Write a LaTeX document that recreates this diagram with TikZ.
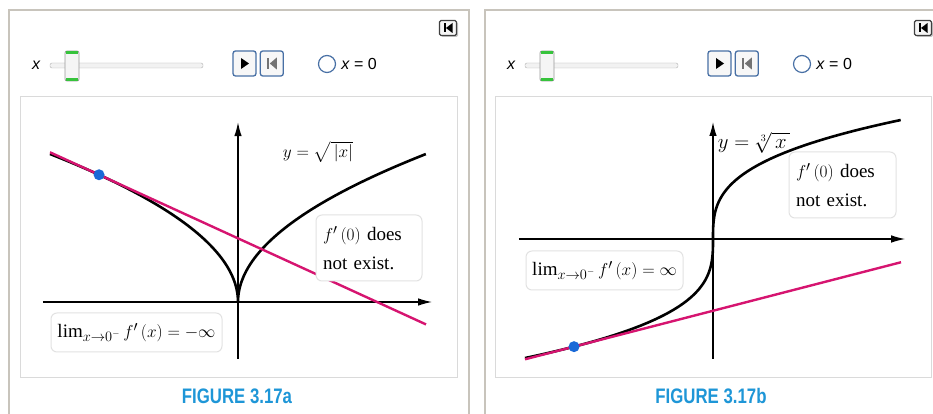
\documentclass[tikz,border=0pt]{standalone}
\usepackage{amsmath}
\usepackage{fontspec}
\setmainfont{Liberation Serif}
\setsansfont{Liberation Sans}
\usetikzlibrary{calc,arrows.meta,positioning}
\definecolor{panelGray}{RGB}{200,196,188}
\definecolor{plotGray}{RGB}{218,218,218}
\definecolor{noteGray}{RGB}{226,226,226}
\definecolor{tanPink}{RGB}{214,20,112}
\definecolor{dotBlue}{RGB}{25,105,215}
\definecolor{capBlue}{RGB}{30,150,215}
\definecolor{btnBlue}{RGB}{72,112,165}
\definecolor{thumbGreen}{RGB}{55,195,60}
\tikzset{
  panel/.style={panelGray,line width=2pt},
  plotbox/.style={draw=plotGray,line width=1pt},
  axis/.style={line width=1.3pt,-{Latex[length=14pt,width=7.5pt]}},
  fcurve/.style={line width=2.6pt},
  tangent/.style={tanPink,line width=2.4pt},
  note/.style={draw=noteGray,fill=white,rounded corners=6pt,line width=1pt,font=\fontsize{19}{29}\selectfont},
  figcap/.style={text=capBlue,font=\sffamily\bfseries\fontsize{21}{21}\selectfont},
  btn/.style={draw=btnBlue,fill=black!3,rounded corners=2.5pt,line width=1.3pt,minimum width=23pt,minimum height=25pt,inner sep=0pt},
}
\newcommand{\ControlBar}[2]{%
\begin{scope}[xshift=#1]
  \node[font=\sffamily\itshape\fontsize{16}{16}\selectfont] (xname#2) at (36,349) {x};
  \draw[draw=black!30,fill=black!5,rounded corners=2pt] (50,346) rectangle (203,351);
  \node[draw=black!40,fill=black!4,rounded corners=2pt,minimum width=14pt,minimum height=30pt,inner sep=0pt,line width=0.8pt] (thumb#2) at (72,348) {};
  \draw[thumbGreen,line width=3.5pt] ([xshift=1.2pt,yshift=-2pt]thumb#2.north west) -- ([xshift=-1.2pt,yshift=-2pt]thumb#2.north east);
  \draw[thumbGreen,line width=3.5pt] ([xshift=1.2pt,yshift=2pt]thumb#2.south west) -- ([xshift=-1.2pt,yshift=2pt]thumb#2.south east);
  \node[btn] (play#2) at (244.5,350.5) {};
  \node[btn,right=3pt of play#2] (reset#2) {};
  \fill ($(play#2.center)+(-3.5,5.5)$) -- ++(0,-11) -- ++(8,5.5) -- cycle;
  \fill[black!55] ($(reset#2.center)+(-5,5.5)$) rectangle ++(2,-11);
  \fill[black!55] ($(reset#2.center)+(5,6)$) -- ++(0,-12) -- ++(-7,6) -- cycle;
  \node[circle,draw=btnBlue,fill=white,line width=1.2pt,minimum size=17pt,inner sep=0pt] (radio#2) at (327,350) {};
  \node[right=5pt of radio#2,font=\sffamily\fontsize{16}{16}\selectfont,inner sep=0pt] (zero#2) {\textit{x} = 0};
  \fill[black!22,rounded corners=1.5pt] (441,377) rectangle (458,392);
  \node[draw=black!75,fill=black!4,rounded corners=1.5pt,line width=1.2pt,minimum width=17pt,minimum height=15pt,inner sep=0pt] (hide#2) at (448,386) {};
  \fill ($(hide#2.center)+(-4.5,4.5)$) rectangle ++(2,-9);
  \fill ($(hide#2.center)+(4.5,5)$) -- ++(0,-10) -- ++(-6.5,5) -- cycle;
\end{scope}}

\begin{document}
\begin{tikzpicture}[x=1pt,y=1pt]
  \useasboundingbox (0,0) rectangle (933,414);
  \fill[white] (0,0) rectangle (933,414);
  % panels
  \draw[panel] (9,-3) |- (469,404) -- (469,-3);
  \draw[panel] (485,-3) |- (936,404);
  \draw[plotbox] (20,36) rectangle (457,317);
  \draw[plotbox] (495,36) rectangle (931,317);
  \ControlBar{0pt}{A}
  \ControlBar{475pt}{B}

  % figure a
  \begin{scope}[shift={(238pt,112pt)},x=47pt,y=74pt]
    \draw[axis] (-4.15,0) -- (4.13,0);
    \draw[axis] (0,-0.77) -- (0,2.43);
    \draw[fcurve] plot[domain=-2:2,samples=161,variable=\t] ({\t*abs(\t)},{abs(\t)});
    \coordinate (tanA1) at (-4,2.023);
    \coordinate (tanA2) at (4,-0.303);
    \draw[tangent] (tanA1) -- (tanA2);
    \node[circle,fill=dotBlue,minimum size=11pt,inner sep=0pt] (dotA) at (-2.957,1.7196) {};
  \end{scope}

  % figure b
  \begin{scope}[shift={(713pt,175pt)},x=47pt,y=75pt]
    \draw[axis] (-4.13,0) -- (4.09,0);
    \draw[axis] (0,-1.6) -- (0,1.56);
    \draw[fcurve] plot[domain=-1.5874:1.5874,samples=161,variable=\t] ({\t*\t*\t},{\t});
    \coordinate (tanB1) at (-4,-1.604);
    \coordinate (tanB2) at (4,-0.310);
    \draw[tangent] (tanB1) -- (tanB2);
    \node[circle,fill=dotBlue,minimum size=11pt,inner sep=0pt] (dotB) at (-2.957,-1.4355) {};
  \end{scope}

  % labels
  \node[font=\fontsize{18}{18}\selectfont] (eqA) at (318,262) {$y=\sqrt{\,|x|}$};
  \node[font=\fontsize{20}{20}\selectfont] (eqB) at (754,271) {$y=\sqrt[3]{\,x\,}$};
  \node[note,text width=92pt,align=left,minimum height=66pt,inner xsep=7pt] (exA) at (369,166) {$f'\,(0)$ does\\not exist.};
  \node[note,text width=93pt,align=left,minimum height=66pt,inner xsep=7pt] (exB) at (842.5,229) {$f'\,(0)$ does\\not exist.};
  \node[note,minimum width=171pt,minimum height=39pt] (limA) at (136.5,81.5) {$\lim_{x\to0^-} f'\,(x)=-\infty$};
  \node[note,minimum width=157pt,minimum height=39pt] (limB) at (604.5,143.5) {$\lim_{x\to0^-} f'\,(x)=\infty$};
  \node[figcap] (capA) at (237,18) {\scalebox{0.8}[1]{FIGURE 3.17a}};
  \node[figcap] (capB) at (711,18) {\scalebox{0.8}[1]{FIGURE 3.17b}};
\end{tikzpicture}
\end{document}
